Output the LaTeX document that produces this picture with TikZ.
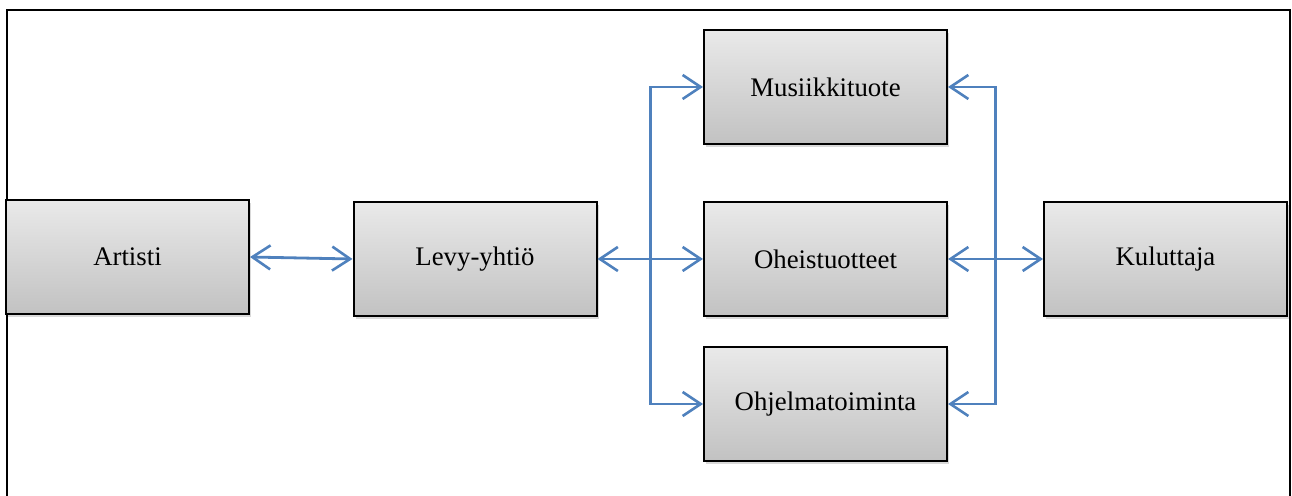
\documentclass[tikz,border=0pt]{standalone}
\usepackage{fontspec}
\setmainfont{Liberation Serif}
\usetikzlibrary{arrows.meta,calc,shadows}
\definecolor{linkblue}{HTML}{4F81BD}
\begin{document}
\begin{tikzpicture}[x = 0.5pt, y = -0.5pt,
    box/.style = {shape = rectangle, draw = black, line width = 1pt,
      top color = gray!17, bottom color = gray!48,
      minimum width = 121.5pt, minimum height = 57pt, inner sep = 0pt,
      font = \fontsize{13.4}{16}\selectfont,
      drop shadow = {opacity = 0.3, shadow xshift = 1pt, shadow yshift = -1.5pt}},
    link/.style = {draw = linkblue, line width = 1.4pt,
      arrows = {Straight Barb[length = 9pt, width = 12pt, line width = 1.3pt]-Straight Barb[length = 9pt, width = 12pt, line width = 1.3pt]}},
    onelink/.style = {draw = linkblue, line width = 1.4pt,
      arrows = {-Straight Barb[length = 9pt, width = 12pt, line width = 1.3pt]}}]
  \useasboundingbox (0,0) rectangle (1292,496);
  \draw[line width = 0.8pt] (7,496) -- (7,10) -- (1290,10) -- (1290,496);
  \node[box](art) at (127.5,257) {Artisti};
  \node[box](lev) at (475,259) {Levy-yhtiö};
  \node[box](mus) at (825.5,87) {Musiikkituote};
  \node[box](ohe) at (825.5,259) {Oheistuotteet};
  \node[box](ohj) at (825.5,404) {Ohjelmatoiminta};
  \node[box](kul) at (1165.5,259) {Kuluttaja};
  \coordinate (lbus) at ($(lev.east)!0.5!(ohe.west)$);
  \coordinate (rbus) at ($(ohe.east)!0.5!(kul.west)$);
  \draw[link] (art.east) -- (lev.west);
  \draw[link] (lev.east) -- (ohe.west);
  \draw[onelink] (lbus) |- (mus.west);
  \draw[onelink] (lbus) |- (ohj.west);
  \draw[link] (ohe.east) -- (kul.west);
  \draw[onelink] (rbus) |- (mus.east);
  \draw[onelink] (rbus) |- (ohj.east);
\end{tikzpicture}
\end{document}
